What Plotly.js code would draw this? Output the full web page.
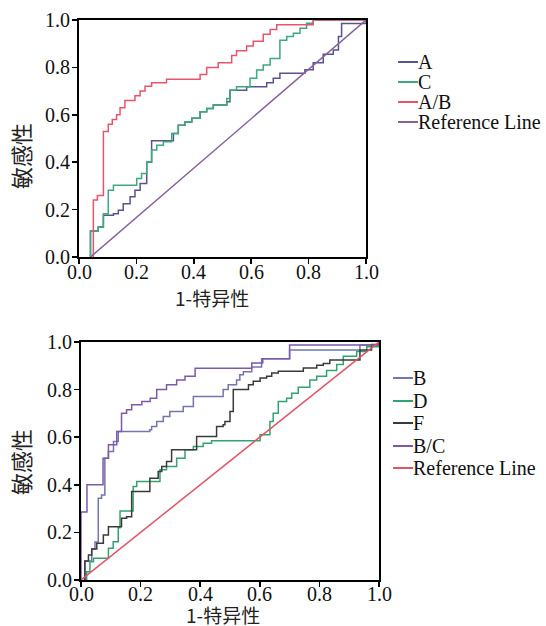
<!DOCTYPE html>
<html>
<head>
<meta charset="utf-8">
<script src="https://cdn.plot.ly/plotly-3.0.1.min.js"></script>
<style>html,body{margin:0;padding:0;background:#fff;}#chart{width:546px;height:626px;}</style>
</head>
<body>
<div id="chart"></div>
<script>
// ---------- Top chart data ----------
const topNames = ["A", "C", "A/B", "Reference Line"];
const aX = [0.04,0.04,0.067,0.085,0.12,0.137,0.154,0.178,0.195,0.213,0.236,0.253,0.329,0.346,0.369,0.393,0.422,0.445,0.468,0.515,0.526,0.584,0.654,0.677,0.70,0.787,0.816,0.851,0.886,0.904,0.915,1.0];
const aY = [0,0.11,0.127,0.176,0.183,0.197,0.225,0.254,0.282,0.31,0.40,0.49,0.521,0.556,0.57,0.585,0.613,0.627,0.641,0.655,0.704,0.718,0.735,0.754,0.775,0.79,0.82,0.856,0.873,0.93,0.985,1.0];
const cX = [0.04,0.04,0.067,0.085,0.102,0.12,0.201,0.218,0.236,0.253,0.271,0.294,0.323,0.346,0.369,0.393,0.422,0.445,0.468,0.515,0.526,0.549,0.596,0.619,0.642,0.666,0.70,0.724,0.747,0.77,0.793,0.816,1.0];
const cY = [0,0.11,0.127,0.183,0.282,0.303,0.331,0.352,0.401,0.451,0.472,0.486,0.521,0.556,0.57,0.585,0.613,0.627,0.641,0.669,0.704,0.718,0.754,0.789,0.81,0.838,0.915,0.93,0.944,0.965,0.986,1.0,1.0];
const abX = [0.05,0.05,0.064,0.085,0.102,0.116,0.131,0.143,0.160,0.195,0.213,0.230,0.253,0.305,0.422,0.445,0.485,0.532,0.549,0.584,0.607,0.642,0.666,0.689,0.816,1.0];
const abY = [0,0.24,0.26,0.53,0.56,0.58,0.60,0.63,0.66,0.68,0.70,0.72,0.735,0.75,0.77,0.80,0.82,0.85,0.87,0.89,0.91,0.94,0.96,0.98,1.0,1.0];
const refTopX = [0.04, 1.0];
const refTopY = [0, 1.0];

// ---------- Bottom chart data ----------
const botNames = ["B", "D", "F", "B/C", "Reference Line"];
const bX = [0.013,0.013,0.036,0.047,0.058,0.069,0.08,0.092,0.109,0.125,0.231,0.237,0.254,0.276,0.298,0.343,0.377,0.477,0.494,0.522,0.533,0.545,0.573,0.606,0.70,0.936,1.0];
const bY = [0,0.08,0.13,0.16,0.343,0.357,0.512,0.54,0.582,0.624,0.631,0.645,0.666,0.687,0.708,0.729,0.771,0.80,0.82,0.84,0.862,0.875,0.895,0.93,0.966,0.987,1.0];
const dX = [0.008,0.019,0.03,0.042,0.092,0.108,0.125,0.131,0.175,0.187,0.265,0.287,0.321,0.349,0.377,0.41,0.438,0.601,0.634,0.645,0.662,0.69,0.707,0.729,0.768,0.791,0.824,0.858,0.88,0.925,0.959,1.0];
const dY = [0,0.035,0.077,0.091,0.133,0.161,0.22,0.29,0.393,0.414,0.463,0.477,0.512,0.547,0.561,0.575,0.585,0.61,0.666,0.701,0.75,0.764,0.785,0.81,0.84,0.856,0.88,0.905,0.94,0.96,0.98,1.0];
const fX = [0.013,0.013,0.025,0.036,0.053,0.075,0.092,0.136,0.153,0.17,0.231,0.259,0.271,0.287,0.304,0.388,0.455,0.477,0.483,0.5,0.511,0.562,0.578,0.601,0.623,0.64,0.662,0.746,0.791,0.813,0.835,0.936,0.975,1.0];
const fY = [0,0.08,0.105,0.13,0.154,0.189,0.224,0.259,0.266,0.372,0.428,0.456,0.477,0.498,0.547,0.603,0.645,0.652,0.666,0.708,0.80,0.82,0.835,0.849,0.856,0.87,0.877,0.891,0.902,0.91,0.924,0.966,0.99,1.0];
const bcX = [0,0,0.02,0.074,0.092,0.12,0.136,0.153,0.17,0.204,0.232,0.254,0.287,0.321,0.349,0.383,0.573,0.61,0.70,1.0];
const bcY = [0,0.286,0.40,0.512,0.568,0.624,0.701,0.715,0.736,0.75,0.764,0.80,0.82,0.84,0.856,0.89,0.912,0.93,0.987,1.0];
const refBotX = [0, 1.0];
const refBotY = [0, 1.0];

const tickVals = [0, 0.2, 0.4, 0.6, 0.8, 1.0];
const tickText = ["0.0", "0.2", "0.4", "0.6", "0.8", "1.0"];
const xTitle = "1-特异性";
const yTitle = "敏感性";

// ---------- styles ----------
const topColors = ["#55558f", "#3fa87c", "#e4566e", "#85609c"];
const botColors = ["#7474ae", "#33a270", "#3a3a3a", "#7d5aa8", "#e05464"];
const W = 546, H = 626;
const SERIF = "Liberation Serif";
const CJK = "Noto Sans CJK SC";

function stepTrace(x, y, name, color, xa, ya, shape) {
  return {
    type: "scatter", mode: "lines", x: x, y: y, name: name,
    xaxis: xa, yaxis: ya,
    line: {color: color, width: 1.5, shape: shape || "hv"}
  };
}

const traces = [
  stepTrace(aX, aY, topNames[0], topColors[0], "x", "y"),
  stepTrace(cX, cY, topNames[1], topColors[1], "x", "y"),
  stepTrace(abX, abY, topNames[2], topColors[2], "x", "y"),
  stepTrace(refTopX, refTopY, topNames[3], topColors[3], "x", "y", "linear"),
  stepTrace(bX, bY, botNames[0], botColors[0], "x2", "y2"),
  stepTrace(dX, dY, botNames[1], botColors[1], "x2", "y2"),
  stepTrace(fX, fY, botNames[2], botColors[2], "x2", "y2"),
  stepTrace(bcX, bcY, botNames[3], botColors[3], "x2", "y2"),
  stepTrace(refBotX, refBotY, botNames[4], botColors[4], "x2", "y2", "linear")
];

function axis(domain, anchor) {
  return {
    domain: domain, anchor: anchor, range: [0, 1], fixedrange: true,
    tickmode: "array", tickvals: tickVals, ticktext: tickText,
    ticks: "outside", ticklen: 5, tickwidth: 1.5, tickcolor: "#000",
    showticklabels: false,
    showline: true, linewidth: 2, linecolor: "#000", mirror: true,
    showgrid: false, zeroline: false, automargin: false
  };
}

const annotations = [];
const shapes = [];

// Tick labels placed on the axes' own scales (serif, as in the reference)
function addTickLabels(xref, yref, xLabelY, yLabelX) {
  tickVals.forEach((v, i) => {
    annotations.push({xref: xref, yref: "paper", x: v, y: 1 - xLabelY / H,
      xanchor: "center", yanchor: "middle", showarrow: false, text: tickText[i],
      font: {family: SERIF, size: 20, color: "#111"}});
    annotations.push({xref: "paper", yref: yref, x: yLabelX / W, y: v,
      xanchor: "right", yanchor: "middle", showarrow: false, text: tickText[i],
      font: {family: SERIF, size: 20, color: "#111"}});
  });
}
addTickLabels("x", "y", 272, 72);
addTickLabels("x2", "y2", 594, 74);

// Legend drawn as swatch lines + text (pixel layout positions)
function addLegend(names, colors, swX0, swX1, textX, yCenters) {
  names.forEach((n, i) => {
    const yp = 1 - yCenters[i] / H;
    shapes.push({type: "line", xref: "paper", yref: "paper",
      x0: swX0 / W, x1: swX1 / W, y0: yp, y1: yp,
      line: {color: colors[i], width: 2}});
    annotations.push({xref: "paper", yref: "paper", x: textX / W, y: yp,
      xanchor: "left", yanchor: "middle", showarrow: false, text: n,
      font: {family: SERIF, size: 20, color: "#111"}});
  });
}
addLegend(topNames, topColors, 398, 418, 416, [62, 82, 102, 122]);
addLegend(botNames, botColors, 393, 413, 411, [378, 401, 423, 446, 468]);

function addTitle(text, xc, yc, angle, size) {
  annotations.push({xref: "paper", yref: "paper", x: xc / W, y: 1 - yc / H,
    xanchor: "center", yanchor: "middle", showarrow: false, text: text,
    textangle: angle, font: {family: CJK, size: size, color: "#222"}});
}
addTitle(xTitle, 212, 297, 0, 19);
addTitle(yTitle, 20, 156, -90, 22);
addTitle(xTitle, 223, 614, 0, 19);
addTitle(yTitle, 20, 462, -90, 22);

const layout = {
  width: W, height: H,
  margin: {l: 0, r: 0, t: 0, b: 0},
  showlegend: false,
  xaxis: axis([79 / W, 366 / W], "y"),
  yaxis: axis([1 - 257 / H, 1 - 20 / H], "x"),
  xaxis2: axis([81 / W, 379 / W], "y2"),
  yaxis2: axis([1 - 580 / H, 1 - 342 / H], "x2"),
  annotations: annotations,
  shapes: shapes
};

Plotly.newPlot("chart", traces, layout, {displayModeBar: false, staticPlot: true});
</script>
</body>
</html>
